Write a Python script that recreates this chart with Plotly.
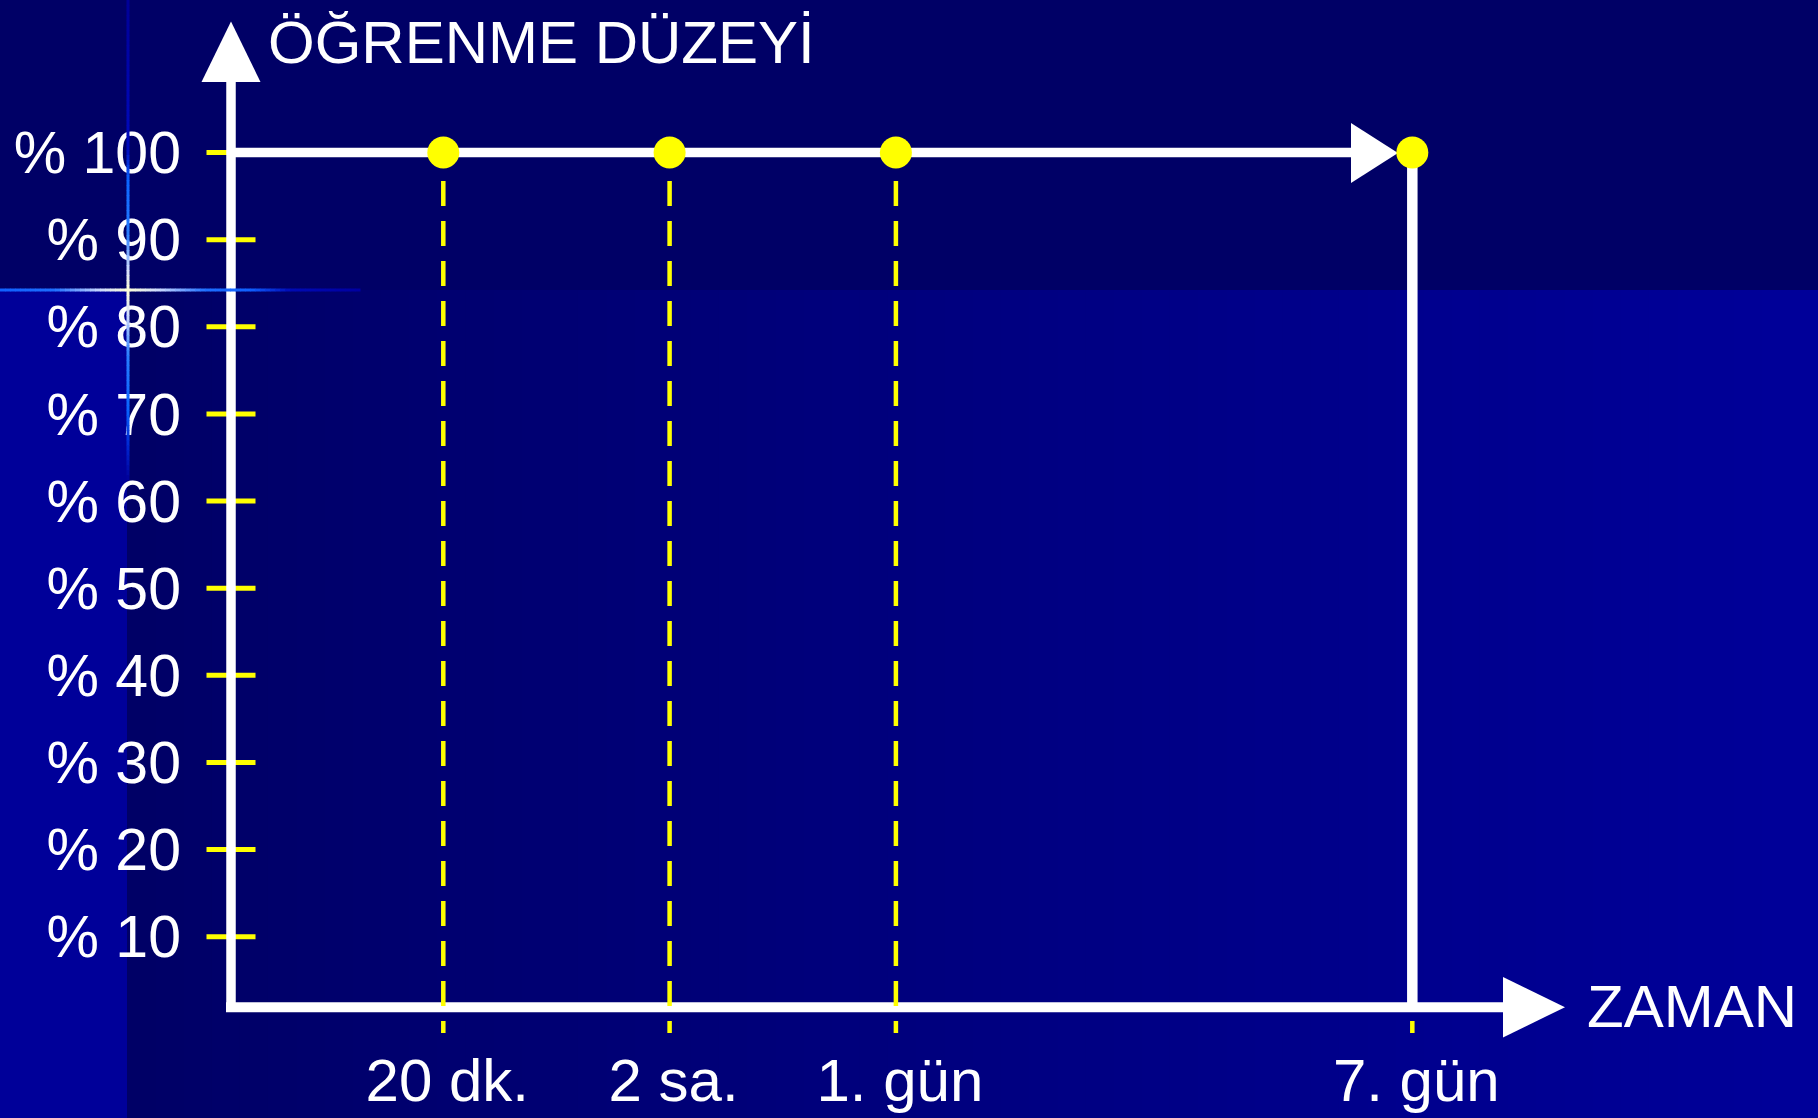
import plotly.graph_objects as go

# ------------------------------------------------------------------ data
time_labels = ["20 dk.", "2 sa.", "1. gün", "7. gün"]
learning_level = [100, 100, 100, 100]
y_tick_values = [10, 20, 30, 40, 50, 60, 70, 80, 90, 100]
y_tick_labels = ["% 10", "% 20", "% 30", "% 40", "% 50",
                 "% 60", "% 70", "% 80", "% 90", "% 100"]
y_axis_title = "ÖĞRENME DÜZEYİ"
x_axis_title = "ZAMAN"

# ------------------------------------------------------------------ layout geometry
W, H = 1818, 1118
time_slots = [1, 2, 3, 5.282]          # placement of the time categories on the axis

SLOT_PX, SLOT0_PX = 226.3, 217.0       # pixels per slot, pixel of slot 0
PCT_PX, PCT0_PX = 8.714, 1023.9        # pixels per percent, pixel of 0 %


def xd(px):
    return (px - SLOT0_PX) / SLOT_PX


def yd(py):
    return (PCT0_PX - py) / PCT_PX


def fx(px):
    return px / W


def fy(py):
    return (H - py) / H


x_range = [xd(0), xd(W)]
y_range = [yd(H), yd(0)]

axis_x = xd(231)        # vertical axis line
axis_y = yd(1007.2)     # horizontal axis line

WHITE = "#FFFFFF"
YELLOW = "#FFFF00"
FONT = "Liberation Sans, Arial, sans-serif"

fig = go.Figure()

# yellow tick marks crossing the vertical axis (line-ew length = 1.4 * size)
fig.add_trace(go.Scatter(
    x=[axis_x] * len(y_tick_values), y=y_tick_values, mode="markers",
    marker=dict(symbol="line-ew", size=35, line=dict(width=5, color=YELLOW)),
    hoverinfo="skip", showlegend=False))

# vertical axis line
fig.add_trace(go.Scatter(
    x=[axis_x, axis_x], y=[yd(1012), yd(80)], mode="lines",
    line=dict(color=WHITE, width=9.5), hoverinfo="skip", showlegend=False))

# horizontal axis line
fig.add_trace(go.Scatter(
    x=[xd(226), xd(1505)], y=[axis_y, axis_y], mode="lines",
    line=dict(color=WHITE, width=10), hoverinfo="skip", showlegend=False))

# learning level line (stays at 100 %)
fig.add_trace(go.Scatter(
    x=[axis_x] + time_slots[:-1] + [xd(1353)],
    y=[learning_level[0]] + learning_level[:-1] + [learning_level[-1]],
    mode="lines", line=dict(color=WHITE, width=9.5),
    hoverinfo="skip", showlegend=False))

# dashed yellow guide lines
for s in time_slots:
    fig.add_trace(go.Scatter(
        x=[s, s], y=[yd(181), yd(1033)], mode="lines",
        line=dict(color=YELLOW, width=4.5, dash="25px,15px"),
        hoverinfo="skip", showlegend=False))

# drop at 7th day
fig.add_trace(go.Scatter(
    x=[time_slots[-1], time_slots[-1]], y=[learning_level[-1], axis_y],
    mode="lines", line=dict(color=WHITE, width=10.5),
    hoverinfo="skip", showlegend=False))

# points
fig.add_trace(go.Scatter(
    x=time_slots, y=learning_level, mode="markers",
    marker=dict(color=YELLOW, size=32, line=dict(width=0)),
    hoverinfo="skip", showlegend=False))

shapes = []

# ------------------------------------------------------------------ background
shapes.append(dict(type="rect", xref="paper", yref="paper", layer="below",
                   x0=0, x1=fx(127), y0=0, y1=fy(290),
                   fillcolor="#000099", line=dict(width=0)))
N = 60
x_start, x_end = 127, W
for i in range(N):
    t = i / (N - 1)
    b = int(round(102 + (153 - 102) * t))
    a = x_start + (x_end - x_start) * i / N
    c = x_start + (x_end - x_start) * (i + 1) / N + 1
    shapes.append(dict(type="rect", xref="paper", yref="paper", layer="below",
                       x0=fx(a), x1=fx(min(c, W)), y0=0, y1=fy(290),
                       fillcolor=f"rgb(0,0,{b})", line=dict(width=0)))


def lerp_col(stops, p):
    for (p0, c0), (p1, c1) in zip(stops[:-1], stops[1:]):
        if p0 <= p <= p1:
            t = 0 if p1 == p0 else (p - p0) / (p1 - p0)
            return tuple(int(round(c0[k] + (c1[k] - c0[k]) * t)) for k in range(3))
    return stops[-1][1]


h_stops = [(0, (16, 96, 255)), (55, (30, 110, 255)), (100, (200, 215, 255)),
           (128, (255, 255, 215)), (160, (200, 215, 255)), (205, (30, 110, 255)),
           (250, (16, 96, 255)), (290, (0, 10, 180)), (360, (0, 0, 160))]
step = 5
for p in range(0, 360, step):
    col = lerp_col(h_stops, p + step / 2)
    shapes.append(dict(type="line", xref="paper", yref="paper", layer="above",
                       x0=fx(p), x1=fx(p + step + 0.5), y0=fy(290), y1=fy(290),
                       line=dict(color=f"rgb{col}", width=3)))

v_stops = [(0, (0, 0, 150)), (150, (0, 10, 190)), (180, (10, 100, 255)),
           (235, (40, 125, 255)), (270, (210, 220, 255)), (290, (255, 255, 215)),
           (315, (210, 220, 255)), (355, (40, 125, 255)), (410, (10, 100, 255)),
           (445, (0, 40, 210)), (480, (0, 0, 153))]
for p in range(0, 480, step):
    col = lerp_col(v_stops, p + step / 2)
    shapes.append(dict(type="line", xref="paper", yref="paper", layer="above",
                       x0=fx(128), x1=fx(128), y0=fy(p), y1=fy(p + step + 0.5),
                       line=dict(color=f"rgb{col}", width=3)))


# ------------------------------------------------------------------ arrowheads
def tri(p1, p2, p3):
    return (f"M {xd(p1[0])},{yd(p1[1])} L {xd(p2[0])},{yd(p2[1])} "
            f"L {xd(p3[0])},{yd(p3[1])} Z")


for path in [tri((231, 21.5), (201.5, 82), (260.5, 82)),
             tri((1565, 1007.2), (1503, 977), (1503, 1037.4)),
             tri((1398, 153), (1351, 123), (1351, 183))]:
    shapes.append(dict(type="path", xref="x", yref="y", layer="below",
                       path=path, fillcolor=WHITE, line=dict(width=0)))

annotations = [
    dict(text=y_axis_title, xref="paper", yref="paper", x=fx(266), y=fy(43),
         xanchor="left", yanchor="middle", showarrow=False,
         font=dict(family=FONT, size=60, color=WHITE)),
    dict(text=x_axis_title, xref="paper", yref="paper", x=fx(1585), y=fy(1006),
         xanchor="left", yanchor="middle", showarrow=False,
         font=dict(family=FONT, size=60, color=WHITE)),
]

fig.update_layout(
    width=W, height=H,
    margin=dict(l=0, r=0, t=0, b=0, pad=0, autoexpand=False),
    paper_bgcolor="#000066",
    plot_bgcolor="rgba(0,0,0,0)",
    showlegend=False,
    shapes=shapes,
    annotations=annotations,
    xaxis=dict(range=x_range, domain=[0, 1], anchor="free", position=fy(1007.2),
               tickmode="array", tickvals=time_slots, ticktext=time_labels,
               ticks="", showline=False, showgrid=False, zeroline=False,
               automargin=False, ticklabelstandoff=33, ticklabelshift=4,
               tickfont=dict(family=FONT, size=60, color=WHITE), fixedrange=True),
    yaxis=dict(range=y_range, domain=[0, 1], anchor="free", position=fx(231),
               tickmode="array", tickvals=y_tick_values, ticktext=y_tick_labels,
               ticks="", showline=False, showgrid=False, zeroline=False,
               automargin=False, ticklabelstandoff=50,
               tickfont=dict(family=FONT, size=59, color=WHITE), fixedrange=True),
)

fig.write_html(
    "out.html",
    config={"displayModeBar": False},
    post_script="document.body.style.margin='0';document.body.style.overflow='hidden';",
)
